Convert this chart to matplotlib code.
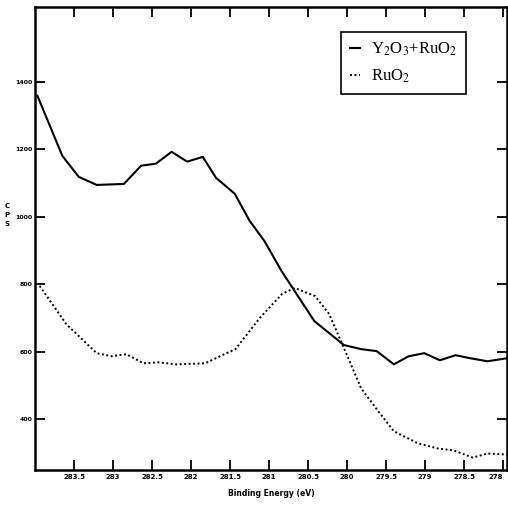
import matplotlib
matplotlib.use("Agg")
import matplotlib.pyplot as plt

# Binding energy (eV) and counts per second
energy_mix = [283.97, 283.65, 283.44, 283.21, 282.86, 282.64, 282.45, 282.25, 282.05,
              281.85, 281.68, 281.44, 281.25, 281.06, 280.84, 280.42, 280.04, 279.82,
              279.62, 279.40, 279.21, 279.01, 278.81, 278.61, 278.42, 278.20, 277.95]
cps_mix = [1358, 1180, 1118, 1094, 1097, 1151, 1157, 1192, 1163,
           1177, 1115, 1068, 988, 928, 839, 691, 620, 608,
           602, 563, 587, 596, 575, 590, 581, 572, 581]

energy_ru = [283.94, 283.60, 283.21, 283.02, 282.83, 282.61, 282.42, 282.19, 281.82,
             281.63, 281.43, 281.12, 280.83, 280.67, 280.41, 280.23, 280.04, 279.82,
             279.60, 279.40, 279.09, 278.84, 278.63, 278.39, 278.20, 277.95]
cps_ru = [795, 682, 596, 587, 593, 566, 569, 563, 566,
          587, 608, 700, 772, 789, 765, 712, 611, 492,
          424, 365, 329, 314, 308, 287, 299, 296]

xticks = [283.5, 283, 282.5, 282, 281.5, 281, 280.5, 280, 279.5, 279, 278.5, 278]
xtick_labels = ["283.5", "283", "282.5", "282", "281.5", "281", "280.5", "280",
                "279.5", "279", "278.5", "278"]
yticks = [400, 600, 800, 1000, 1200, 1400]

plt.rcParams['mathtext.fontset'] = 'stix'

fig = plt.figure(figsize=(5.08, 5.16), dpi=100)
ax = fig.add_axes([0.069, 0.089, 0.929, 0.897])

ax.plot(energy_mix, cps_mix, color='black', lw=1.5, label='Y$_2$O$_3$+RuO$_2$')
ax.plot(energy_ru, cps_ru, color='black', lw=1.4, ls=(0, (1, 1.3)), label='RuO$_2$')

ax.set_xlim(284.0, 277.95)
ax.set_ylim(250, 1620)
ax.set_xticks(xticks)
ax.set_xticklabels(xtick_labels)
ax.set_yticks(yticks)

for s in ax.spines.values():
    s.set_linewidth(1.8)

ax.tick_params(direction='in', length=7, width=1.3, top=True, right=True,
               labelsize=5, pad=3)
ax.tick_params(axis='y', labelsize=4.5, pad=2)
for lab in ax.get_xticklabels() + ax.get_yticklabels():
    lab.set_fontweight('bold')
last = ax.get_xticklabels()[-1]
last.set_horizontalalignment('right')

ax.set_xlabel('Binding Energy (eV)', fontsize=5.5, fontweight='bold', labelpad=6)
fig.text(7 / 508, 1 - 215 / 516, 'C\nP\nS', fontsize=5, fontweight='bold',
         ha='center', va='center', linespacing=1.6)

leg = ax.legend(loc='upper right', bbox_to_anchor=(0.913, 0.946), borderaxespad=0,
                prop={'family': 'Liberation Serif', 'size': 12},
                handlelength=0.6, handletextpad=0.7, borderpad=0.5,
                labelspacing=0.6, fancybox=False, framealpha=1, edgecolor='black')
leg.get_frame().set_linewidth(1.2)

fig.savefig('out.png', dpi=100)
